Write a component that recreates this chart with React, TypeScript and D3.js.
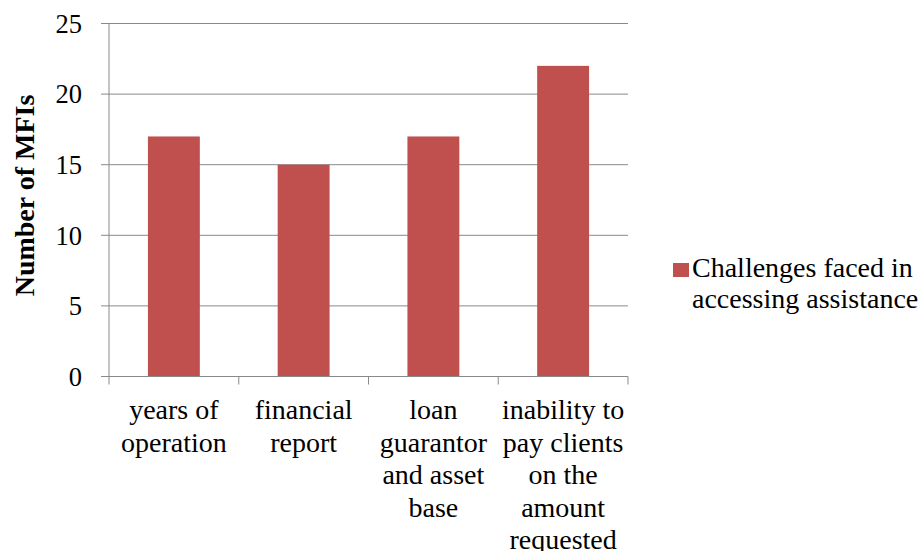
import React from "react";
import * as d3 from "d3";

const categories: string[][] = [
  ["years of", "operation"],
  ["financial", "report"],
  ["loan", "guarantor", "and asset", "base"],
  ["inability to", "pay clients", "on the", "amount", "requested"],
];
const values: number[] = [17, 15, 17, 22];
const yTicks: number[] = [0, 5, 10, 15, 20, 25];
const seriesName: string[] = ["Challenges faced in", "accessing assistance"];
const yTitle = "Number of MFIs";

const W = 924;
const H = 551;
const left = 109;
const right = 628;
const top = 23.5;
const bottom = 376.5;
const font = "Liberation Serif, Tinos, Times New Roman, DejaVu Serif, serif";
const barColor = "#C0504D";
const axisColor = "#898989";

export default function App() {
  const keys = categories.map((_, i) => String(i));
  const x = d3.scaleBand<string>().domain(keys).range([left, right]).paddingInner(0).paddingOuter(0);
  const y = d3.scaleLinear().domain([0, 25]).range([bottom, top]);
  const bw = x.bandwidth();
  const barW = bw / 2.5;
  const ts = { fontFamily: font, fontSize: 28 } as React.CSSProperties;
  const tickStyle = { fontFamily: font, fontSize: 26.5 } as React.CSSProperties;
  return (
    <svg width={W} height={H} style={{ position: "absolute", left: 0, top: 0, background: "#fff" }}>
      {yTicks.map((t) => (
        <g key={t}>
          <line x1={left - 8} x2={right} y1={y(t)} y2={y(t)} stroke={axisColor} strokeWidth={1} />
          <text x={82} y={y(t)} dy="0.35em" textAnchor="end" style={tickStyle} fill="#000">
            {t}
          </text>
        </g>
      ))}
      {values.map((v, i) => (
        <rect
          key={i}
          x={(x(String(i)) as number) + (bw - barW) / 2}
          y={y(v)}
          width={barW}
          height={y(0) - y(v)}
          fill={barColor}
        />
      ))}
      <line x1={left} x2={left} y1={top} y2={bottom} stroke={axisColor} strokeWidth={1} />
      <line x1={left} x2={right} y1={bottom} y2={bottom} stroke={axisColor} strokeWidth={1} />
      {[...keys.map((k) => x(k) as number), right].map((tx, i) => (
        <line key={i} x1={tx} x2={tx} y1={bottom} y2={bottom + 8} stroke={axisColor} strokeWidth={1} />
      ))}
      {categories.map((lines, i) => (
        <text key={i} textAnchor="middle" style={ts} fill="#000">
          {lines.map((l, j) => (
            <tspan key={j} x={(x(String(i)) as number) + bw / 2} y={419 + j * 32.5}>
              {l}
            </tspan>
          ))}
        </text>
      ))}
      <text
        transform={`translate(34, 195.5) rotate(-90)`}
        textAnchor="middle"
        style={{ ...ts, fontWeight: "bold" }}
        fill="#000"
      >
        {yTitle}
      </text>
      <rect x={673} y={263} width={16} height={14} fill={barColor} />
      <text style={ts} fill="#000">
        {seriesName.map((s, j) => (
          <tspan key={j} x={692} y={277 + j * 31}>
            {s}
          </tspan>
        ))}
      </text>
    </svg>
  );
}
